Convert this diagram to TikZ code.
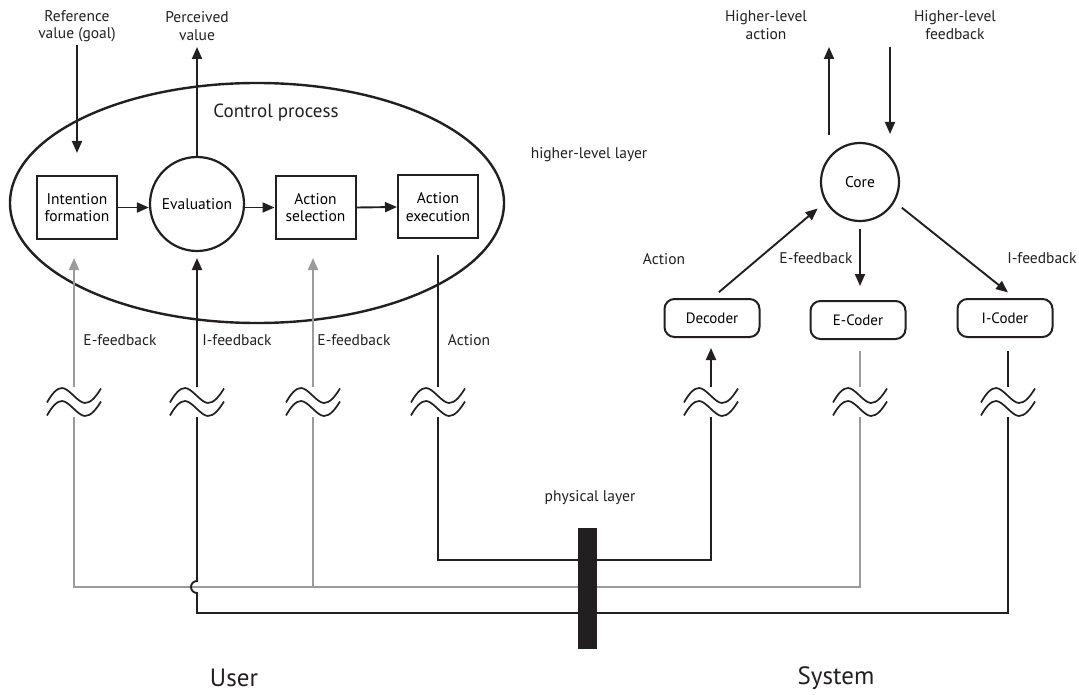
\documentclass[tikz,border=0pt]{standalone}
\usepackage{fontspec}
\setmainfont{PT Sans}
\usetikzlibrary{arrows.meta,shapes.geometric,calc}
\definecolor{fbgray}{RGB}{155,155,155}
\definecolor{ink}{RGB}{35,31,32}
\begin{document}
\begin{tikzpicture}[x=1pt,y=-1pt,
  lbl/.style={font=\fontsize{15.5}{17.5}\selectfont, align=center, inner sep=0, text=ink},
  big/.style={font=\fontsize{25}{28}\selectfont, inner sep=0, text=ink},
  box/.style={draw=ink, line width=2pt, minimum width=80, minimum height=63, align=center, inner sep=0, font=\fontsize{15.5}{17.5}\selectfont},
  circ/.style={draw=ink, circle, line width=2.2pt, inner sep=0, font=\fontsize{15.5}{17.5}\selectfont},
  coder/.style={draw=ink, rounded corners=10, line width=2pt, minimum width=95, minimum height=38, inner sep=0, font=\fontsize{15}{17}\selectfont},
  conn/.style={draw=ink, line width=1.9pt},
  gconn/.style={draw=fbgray, line width=1.9pt},
  arr/.style={conn, -{Triangle[length=12pt,width=10pt]}},
  garr/.style={gconn, -{Triangle[length=12pt,width=10pt]}},
  squig/.pic={
    \foreach \dy in {-6.5,6.5}{
      \draw[ink, line width=1.7pt] (-27,\dy+7) .. controls (-22,\dy-2) and (-17,\dy-7.5) .. (-12,\dy-7.5)
        .. controls (-5,\dy-7.5) and (4,\dy+7.5) .. (11,\dy+7.5)
        .. controls (17,\dy+7.5) and (22,\dy+1) .. (27,\dy-7);
    }
  }
]
\useasboundingbox (0,0) rectangle (1079,695);

% ---------- User side ----------
\node[lbl] (ref) at (77,26) {Reference\\value (goal)};
\node[lbl] (pv) at (197,26) {Perceived\\value};
\node[ellipse, draw=ink, line width=2.4pt, minimum width=494, minimum height=240, inner sep=0] (cp) at (257,203) {};
\node[lbl, font=\fontsize{19}{22}\selectfont] (cpt) at (276,113) {Control process};
\node[box] (intf) at (77,207.5) {Intention\\formation};
\node[circ, minimum size=94] (eval) at (197,204) {Evaluation};
\node[box] (asel) at (315.5,207.5) {Action\\selection};
\node[box] (aexe) at (438,207) {Action\\execution};

\coordinate (refS) at (77,45);
\coordinate (refE) at (77,153);
\coordinate (pvE) at (197,47);
\draw[arr] (refS) -- (refE);
\draw[arr] (eval.north) -- (pvE);
\draw[arr] (intf.east) -- (eval.west |- intf.east);
\draw[arr] (eval.east |- asel.west) -- (asel.west);
\draw[arr] (asel.east) -- (aexe.west);

\node[lbl] (lef1) at (120,340) {E-feedback};
\node[lbl] (lif) at (237,340) {I-feedback};
\node[lbl] (lef2) at (354,340) {E-feedback};
\node[lbl] (lact) at (469,340) {Action};
\node[lbl] (hll) at (589,155) {higher-level layer};
\node[lbl] (phl) at (590,498) {physical layer};
\node[big] (user) at (234,678) {User};
\node[big] (sys) at (836,678) {System};

% wave symbols
\foreach \n/\x in {1/74,2/197,3/313,4/438,5/711,6/860,7/1008}{
  \pic at (\x,402) {squig};
  \coordinate (w\n t) at (\x,387);
  \coordinate (w\n b) at (\x,417);
}

\coordinate (t1) at (74,258);
\coordinate (t2) at (197,258);
\coordinate (t3) at (313,258);
\coordinate (t4) at (438,255);
\draw[garr] (w1t) -- (t1);
\draw[arr] (w2t) -- (t2);
\draw[garr] (w3t) -- (t3);
\draw[conn] (t4) -- (w4t);

% ---------- System side ----------
\node[lbl] (hla) at (766,25) {Higher-level\\action};
\node[lbl] (hlf) at (955,25) {Higher-level\\feedback};
\node[circ, minimum size=78] (core) at (860,182) {Core};
\node[coder] (dec) at (712,318) {Decoder};
\node[coder] (eco) at (858,320) {E-Coder};
\node[coder] (ico) at (1005,318) {I-Coder};

\coordinate (hlaS) at (829,135);
\coordinate (hlaE) at (829,47);
\coordinate (hlfS) at (890,47);
\coordinate (hlfE) at (890,134);
\draw[arr] (hlaS) -- (hlaE);
\draw[arr] (hlfS) -- (hlfE);

\draw[arr, shorten <=9pt, shorten >=10pt] (dec.north) -- (core.210);
\draw[arr, shorten <=7pt, shorten >=14pt] (core.south) -- (core.south |- eco.north);
\draw[arr, shorten <=9pt, shorten >=9pt] (core.330) -- ($(ico.north)+(10,0)$);

\node[lbl] (sact) at (664,259) {Action};
\node[lbl] (sef) at (816,258) {E-feedback};
\node[lbl] (sif) at (1042,258) {I-feedback};

\coordinate (decT) at (711,348);
\coordinate (ecoB) at (860,351);
\coordinate (icoB) at (1008,351);
\draw[arr] (w5t) -- (decT);
\draw[gconn] (ecoB) -- (w6t);
\draw[conn] (icoB) -- (w7t);

% ---------- physical layer wiring ----------
\coordinate (abus) at (0,560);
\coordinate (gbus) at (0,587);
\coordinate (ibus) at (0,613);
\draw[conn] (w4b) -- (w4b |- abus) -- (w5b |- abus) -- (w5b);
\draw[gconn] (w1b) -- (w1b |- gbus) -- (w6b |- gbus) -- (w6b);
\draw[gconn] (w3b) -- (w3b |- gbus);
\draw[conn] (w2b) -- ($(w2b |- gbus)+(0,-6)$) arc[start angle=270, end angle=90, radius=6] -- (w2b |- ibus) -- (w7b |- ibus) -- (w7b);

\node[fill=ink, minimum width=19, minimum height=121, inner sep=0] (bar) at (587.5,588.5) {};
\end{tikzpicture}
\end{document}
